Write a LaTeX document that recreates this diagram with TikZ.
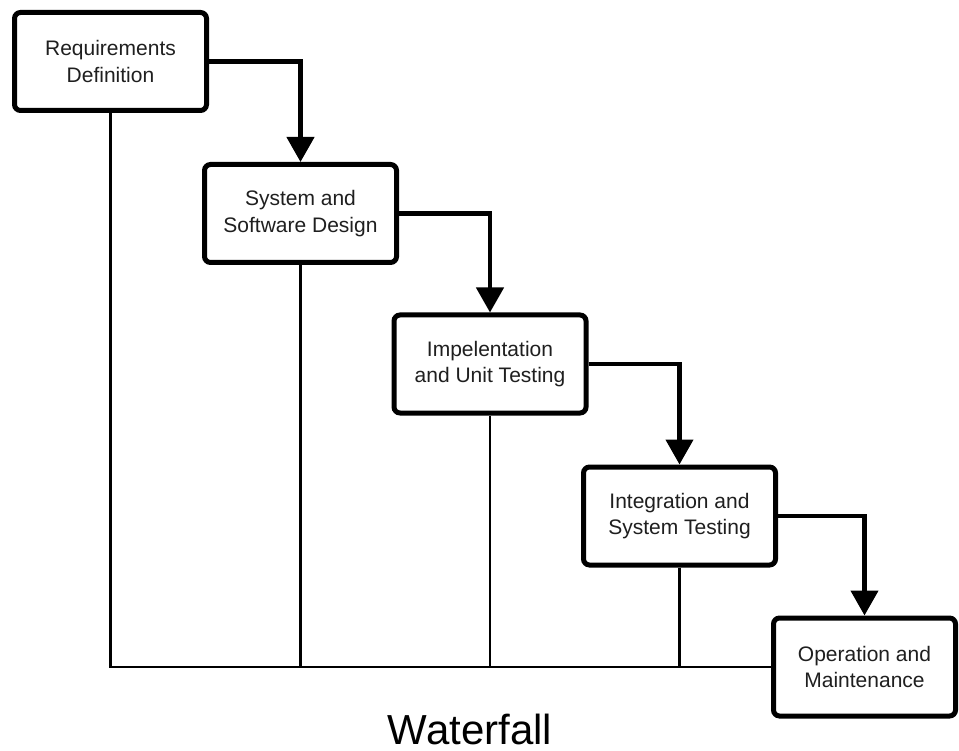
\documentclass[tikz,border=0pt]{standalone}
\usepackage{fontspec}
\setmainfont{Liberation Sans}
\usetikzlibrary{arrows.meta}
\begin{document}
\begin{tikzpicture}[x=1pt,y=-1pt,
  phase/.style={draw=black, line width=5pt, rounded corners=6pt, fill=white,
    minimum width=192pt, minimum height=98pt, align=center,
    font=\fontsize{21pt}{26.5pt}\selectfont, text=black!88},
  flow/.style={draw=black, line width=4.5pt, -{Triangle[width=27pt,length=25pt]}},
  link/.style={draw=black, line width=2.8pt}]
\useasboundingbox (0,0) rectangle (959,751);
\node[phase] (b1) at (110.5,61.5) {Requirements\\Definition};
\node[phase] (b2) at (300.5,213.5) {System and\\Software Design};
\node[phase] (b3) at (490,364) {Impelentation\\and Unit Testing};
\node[phase] (b4) at (679.5,516) {Integration and\\System Testing};
\node[phase, minimum width=182pt] (b5) at (864.5,667) {Operation and\\Maintenance};
\draw[link] (b1.south) |- (b5.west);
\draw[link] (b2.south) -- (b2.south |- b5.west);
\draw[link] (b3.south) -- (b3.south |- b5.west);
\draw[link] (b4.south) -- (b4.south |- b5.west);
\draw[flow] (b1.east) -| (b2.north);
\draw[flow] (b2.east) -| (b3.north);
\draw[flow] (b3.east) -| (b4.north);
\draw[flow] (b4.east) -| (b5.north);
\node[font=\fontsize{42pt}{48pt}\selectfont, anchor=base, inner sep=0pt] (title) at (470,744) {Waterfall};
\end{tikzpicture}
\end{document}
